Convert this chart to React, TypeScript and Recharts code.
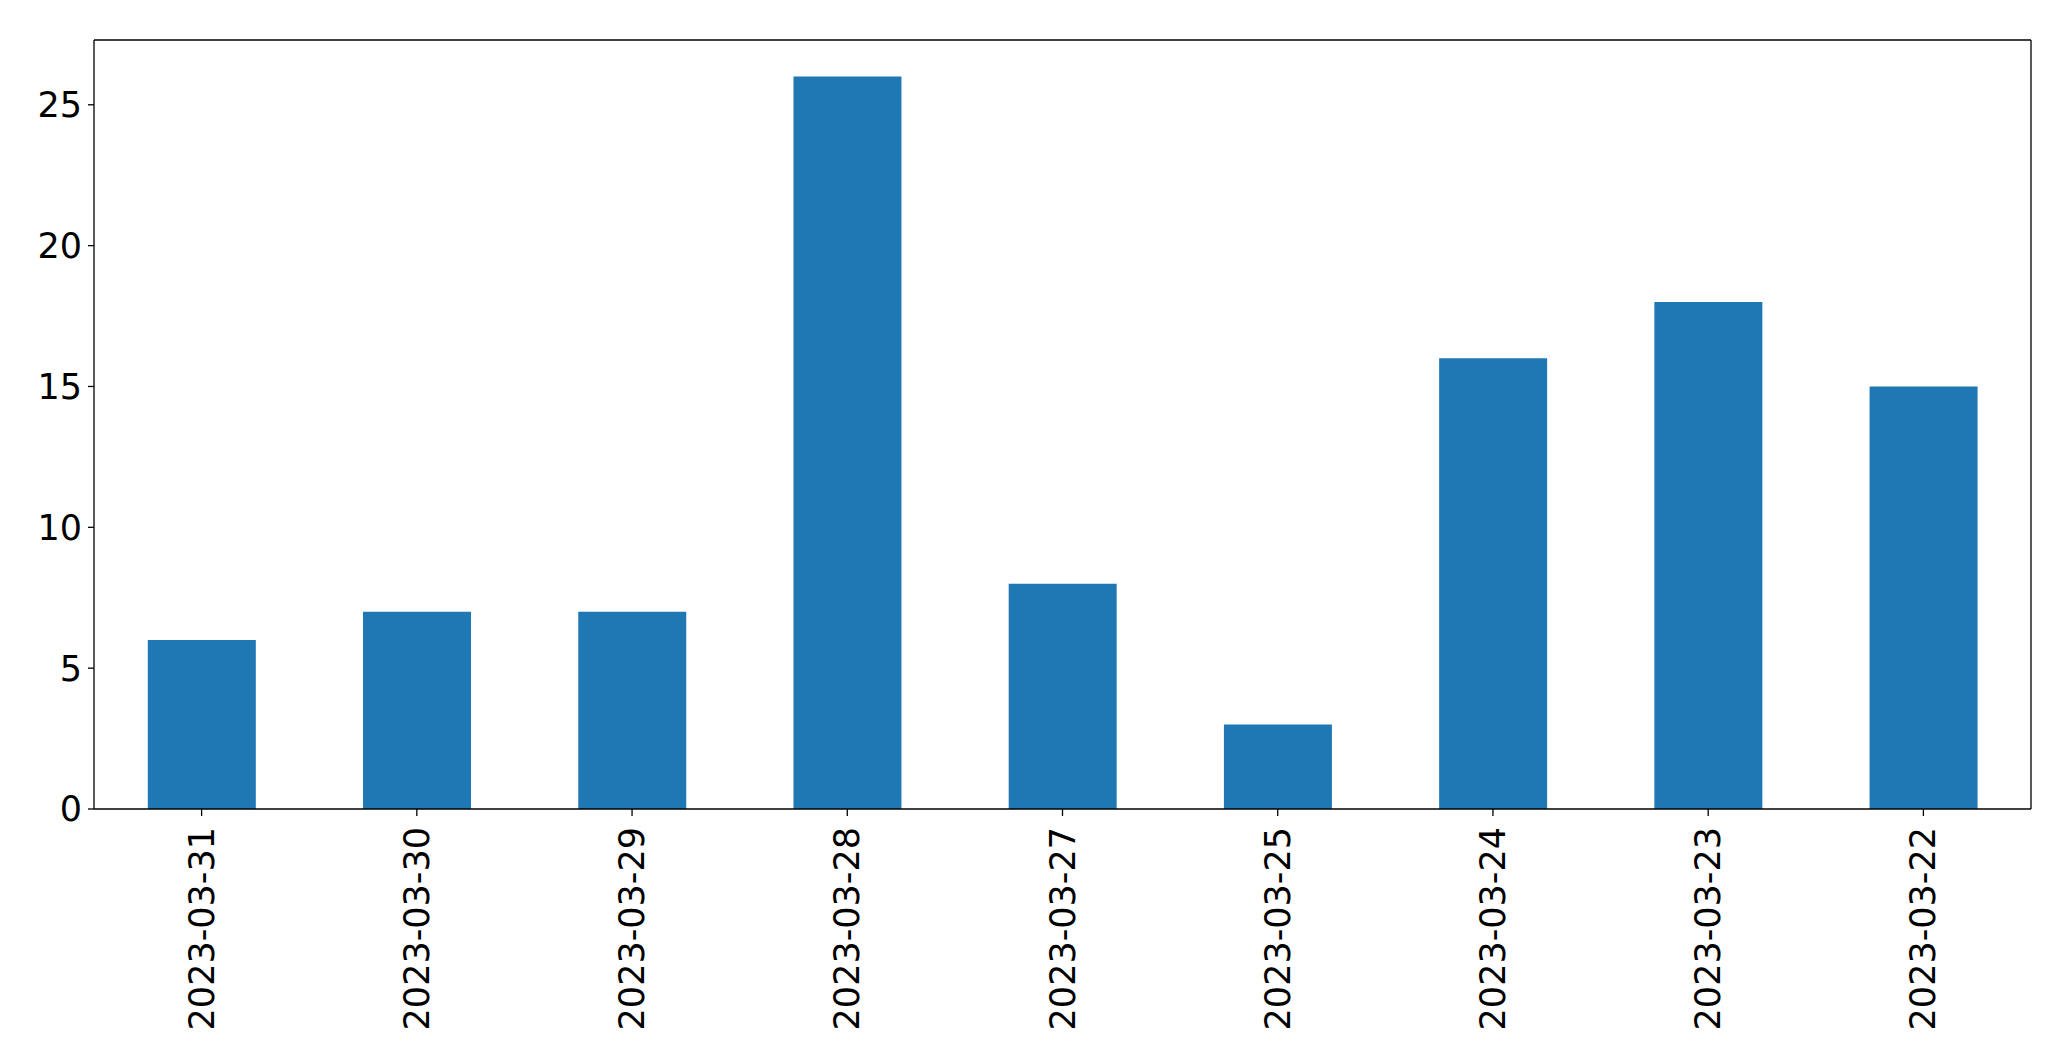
import { Bar, BarChart, XAxis, YAxis } from "recharts"

const dates = [
    "2023-03-31",
    "2023-03-30",
    "2023-03-29",
    "2023-03-28",
    "2023-03-27",
    "2023-03-25",
    "2023-03-24",
    "2023-03-23",
    "2023-03-22",
]
const counts = [6, 7, 7, 26, 8, 3, 16, 18, 15]
const yTicks = [0, 5, 10, 15, 20, 25]

const data = dates.map((d, i) => ({ date: d, count: counts[i] }))

const FONT = "DejaVu Sans, sans-serif"

function DateTick(props: any) {
    const { x, y, payload } = props
    return (
        <g transform={`translate(${x},${y})`}>
            <line x1={0} y1={-8} x2={0} y2={-1} stroke="#000" strokeWidth={1.3} />
            <text
                x={0}
                y={0}
                transform="rotate(-90) translate(-10,0)"
                textAnchor="end"
                dominantBaseline="central"
                fontSize={35}
                fontFamily={FONT}
                fill="#000"
            >
                {payload.value}
            </text>
        </g>
    )
}

export default function App() {
    return (
        <div style={{ position: "absolute", left: 0, top: 0, background: "#fff" }}>
            <BarChart
                width={2071}
                height={1061}
                data={data}
                margin={{ top: 39, right: 39, bottom: 0, left: 0 }}
                barCategoryGap="25%"
            >
                <XAxis
                    dataKey="date"
                    height={252}
                    interval={0}
                    tickLine={false}
                    axisLine={{ stroke: "#000", strokeWidth: 1.3 }}
                    tick={<DateTick />}
                />
                <XAxis
                    xAxisId="top"
                    dataKey="date"
                    orientation="top"
                    height={1}
                    tick={false}
                    tickLine={false}
                    axisLine={{ stroke: "#000", strokeWidth: 1.3 }}
                />
                <YAxis
                    width={94}
                    domain={[0, 27.3]}
                    ticks={yTicks}
                    interval={0}
                    tickSize={6}
                    tickMargin={6}
                    tickLine={{ stroke: "#000", strokeWidth: 1.3 }}
                    axisLine={{ stroke: "#000", strokeWidth: 1.3 }}
                    tick={{ fontSize: 35, fontFamily: FONT, fill: "#000" }}
                />
                <YAxis
                    yAxisId="right"
                    orientation="right"
                    width={1}
                    domain={[0, 27.3]}
                    tick={false}
                    tickLine={false}
                    axisLine={{ stroke: "#000", strokeWidth: 1.3 }}
                />
                <Bar dataKey="count" fill="#1f77b4" isAnimationActive={false} />
            </BarChart>
        </div>
    )
}
